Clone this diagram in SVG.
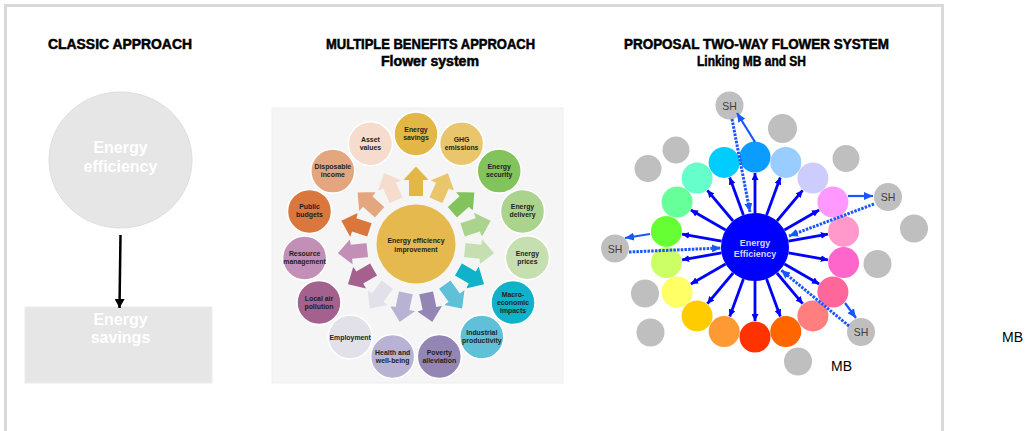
<svg xmlns="http://www.w3.org/2000/svg" width="1027" height="431" viewBox="0 0 1027 431">
<style>
.title{font-family:"Liberation Sans",Arial,sans-serif;font-weight:bold;font-size:14px;fill:#000;stroke:#000;stroke-width:0.5}
.wht{font-family:"Liberation Sans",Arial,sans-serif;font-weight:bold;font-size:16px;fill:#fff;text-anchor:middle}
.pl{font-family:"Liberation Sans",Arial,sans-serif;font-weight:bold;font-size:6.9px;fill:#1e1e1e;text-anchor:middle}
.pet{stroke:#fff;stroke-width:1.5}
.arw{stroke:#f5f5f5;stroke-width:2}
.gray{fill:#bfbfbf}
.sh{font-family:"Liberation Sans",Arial,sans-serif;font-size:10.5px;fill:#404040;text-anchor:middle}
.mb{font-family:"Liberation Sans",Arial,sans-serif;font-size:14px;fill:#000}
.ray{stroke:#0000ff;stroke-width:2.8;fill:none;marker-end:url(#hb)}
.shs{stroke:#1a56ff;stroke-width:2.2;fill:none;marker-end:url(#hs)}
.shd{stroke:#1a56ff;stroke-width:3;stroke-dasharray:2.5 1.2;fill:none;marker-end:url(#hs)}
</style>
<defs>
<marker id="hk" markerUnits="userSpaceOnUse" markerWidth="10" markerHeight="10" refX="9" refY="5" orient="auto"><path d="M0,0 L9,5 L0,10 z" fill="#000"/></marker>
<marker id="hb" markerUnits="userSpaceOnUse" markerWidth="7" markerHeight="7" refX="7" refY="3.5" orient="auto"><path d="M0,0 L7,3.5 L0,7 z" fill="#0000ff"/></marker>
<marker id="hs" markerUnits="userSpaceOnUse" markerWidth="9" markerHeight="8" refX="9" refY="4" orient="auto"><path d="M0,0 L9,4 L0,8 z" fill="#1a56ff"/></marker>
<polygon id="barrow" points="-8,-48 8,-48 8,-64 15,-64 0,-80 -15,-64 -8,-64"/>
</defs>
<rect width="1027" height="431" fill="#fff"/>
<g id="frame" fill="none" stroke="#d9d9d9" stroke-width="3">
<path d="M5.5,431 L5.5,5.5 L942.5,5.5 L942.5,431"/>
</g>

<g id="titles">
<text class="title" x="48" y="49" textLength="144" lengthAdjust="spacingAndGlyphs">CLASSIC APPROACH</text>
<text class="title" x="326" y="49" textLength="209" lengthAdjust="spacingAndGlyphs">MULTIPLE BENEFITS APPROACH</text>
<text class="title" x="381" y="66" textLength="98" lengthAdjust="spacingAndGlyphs">Flower system</text>
<text class="title" x="624" y="49" textLength="265" lengthAdjust="spacingAndGlyphs">PROPOSAL TWO-WAY FLOWER SYSTEM</text>
<text class="title" x="697" y="66" textLength="109" lengthAdjust="spacingAndGlyphs">Linking MB and SH</text>
</g>

<g id="classic-ee">
<ellipse cx="120.5" cy="160" rx="71.5" ry="68" fill="#e6e6e6" stroke="#dedede" stroke-width="1"/>
<text class="wht" x="120.5" y="153">Energy</text>
<text class="wht" x="120.5" y="172">efficiency</text>
</g>
<g id="classic-savings">
<rect x="25" y="307" width="187" height="76" fill="#e6e6e6" stroke="#ececec" stroke-width="1"/>
<text class="wht" x="120.5" y="325">Energy</text>
<text class="wht" x="120.5" y="343">savings</text>
</g>
<g id="classic-connector">
<line x1="120.5" y1="235" x2="119.5" y2="308" stroke="#000" stroke-width="2.5" marker-end="url(#hk)"/>
</g>

<g id="mb-flower">
<rect x="272" y="108" width="291" height="275" fill="#f5f5f5" stroke="#efefef" stroke-width="1"/>
<g id="mb-arrows">
<use href="#barrow" class="arw" fill="#e3b745" transform="translate(416,245) rotate(0)"/>
<use href="#barrow" class="arw" fill="#e9c56b" transform="translate(416,245) rotate(24)"/>
<use href="#barrow" class="arw" fill="#82c35c" transform="translate(416,245) rotate(48)"/>
<use href="#barrow" class="arw" fill="#aad38e" transform="translate(416,245) rotate(72)"/>
<use href="#barrow" class="arw" fill="#c6dfb0" transform="translate(416,245) rotate(96)"/>
<use href="#barrow" class="arw" fill="#10b2c9" transform="translate(416,245) rotate(120)"/>
<use href="#barrow" class="arw" fill="#5fc0d8" transform="translate(416,245) rotate(144)"/>
<use href="#barrow" class="arw" fill="#9486b4" transform="translate(416,245) rotate(168)"/>
<use href="#barrow" class="arw" fill="#b8b2d3" transform="translate(416,245) rotate(192)"/>
<use href="#barrow" class="arw" fill="#e2e1ea" transform="translate(416,245) rotate(216)"/>
<use href="#barrow" class="arw" fill="#a5618e" transform="translate(416,245) rotate(240)"/>
<use href="#barrow" class="arw" fill="#c290b6" transform="translate(416,245) rotate(264)"/>
<use href="#barrow" class="arw" fill="#d9773d" transform="translate(416,245) rotate(288)"/>
<use href="#barrow" class="arw" fill="#e4a67f" transform="translate(416,245) rotate(312)"/>
<use href="#barrow" class="arw" fill="#f6dccc" transform="translate(416,245) rotate(336)"/>
</g>
<g id="mb-center">
<circle cx="416" cy="244" r="39.5" fill="#e5b94d"/>
<text class="pl" x="416" y="243" font-size="7.4">Energy efficiency</text>
<text class="pl" x="416" y="252" font-size="7.4">improvement</text>
</g>
<g id="p-savings"><circle class="pet" cx="416" cy="134" r="22" fill="#e3b745"/><text class="pl" x="416" y="132">Energy</text><text class="pl" x="416" y="140">savings</text></g>
<g id="p-ghg"><circle class="pet" cx="461.6" cy="143.7" r="22" fill="#e9c56b"/><text class="pl" x="461.6" y="141.7">GHG</text><text class="pl" x="461.6" y="149.7">emissions</text></g>
<g id="p-security"><circle class="pet" cx="499.2" cy="171.1" r="22" fill="#82c35c"/><text class="pl" x="499.2" y="169.1">Energy</text><text class="pl" x="499.2" y="177.1">security</text></g>
<g id="p-delivery"><circle class="pet" cx="522.5" cy="211.4" r="22" fill="#aad38e"/><text class="pl" x="522.5" y="209.4">Energy</text><text class="pl" x="522.5" y="217.4">delivery</text></g>
<g id="p-prices"><circle class="pet" cx="527.4" cy="257.7" r="22" fill="#c6dfb0"/><text class="pl" x="527.4" y="255.7">Energy</text><text class="pl" x="527.4" y="263.7">prices</text></g>
<g id="p-macro"><circle class="pet" cx="513" cy="302.5" r="22" fill="#10b2c9"/><text class="pl" x="513" y="296.5">Macro-</text><text class="pl" x="513" y="305">economic</text><text class="pl" x="513" y="313.3">impacts</text></g>
<g id="p-industrial"><circle class="pet" cx="481.8" cy="337" r="22" fill="#5fc0d8"/><text class="pl" x="481.8" y="335">Industrial</text><text class="pl" x="481.8" y="343">productivity</text></g>
<g id="p-poverty"><circle class="pet" cx="439.3" cy="356.5" r="22" fill="#9486b4"/><text class="pl" x="439.3" y="354.5">Poverty</text><text class="pl" x="439.3" y="362.5">alleviation</text></g>
<g id="p-health"><circle class="pet" cx="392.7" cy="356.5" r="22" fill="#b8b2d3"/><text class="pl" x="392.7" y="354.5">Health and</text><text class="pl" x="392.7" y="362.5">well-being</text></g>
<g id="p-employment"><circle class="pet" cx="350.2" cy="337" r="22" fill="#e2e1ea"/><text class="pl" x="350.2" y="339.5">Employment</text></g>
<g id="p-air"><circle class="pet" cx="319" cy="302.5" r="22" fill="#a5618e"/><text class="pl" x="319" y="300.5">Local air</text><text class="pl" x="319" y="308.5">pollution</text></g>
<g id="p-resource"><circle class="pet" cx="304.6" cy="258" r="22" fill="#c290b6"/><text class="pl" x="304.6" y="256">Resource</text><text class="pl" x="304.6" y="264">management</text></g>
<g id="p-budgets"><circle class="pet" cx="309.5" cy="211.4" r="22" fill="#d9773d"/><text class="pl" x="309.5" y="209.4">Public</text><text class="pl" x="309.5" y="217.4">budgets</text></g>
<g id="p-income"><circle class="pet" cx="332.8" cy="171.1" r="22" fill="#e4a67f"/><text class="pl" x="332.8" y="169.1">Disposable</text><text class="pl" x="332.8" y="177.1">income</text></g>
<g id="p-asset"><circle class="pet" cx="370.4" cy="143.7" r="22" fill="#f6dccc"/><text class="pl" x="370.4" y="141.7">Asset</text><text class="pl" x="370.4" y="149.7">values</text></g>
</g>

<g id="tw-gray">
<circle class="gray" cx="782.5" cy="128.5" r="14.5"/>
<circle class="gray" cx="676" cy="150" r="13.5"/>
<circle class="gray" cx="648" cy="168.5" r="13.5"/>
<circle class="gray" cx="846" cy="158.5" r="13.5"/>
<circle class="gray" cx="914" cy="228.5" r="14"/>
<circle class="gray" cx="877.5" cy="264" r="14"/>
<circle class="gray" cx="645" cy="293.5" r="14"/>
<circle class="gray" cx="650.5" cy="332.5" r="14"/>
<circle class="gray" cx="798" cy="361.5" r="14"/>
</g>
<g id="sh-top"><circle class="gray" cx="729.5" cy="105.5" r="14"/><text class="sh" x="729.5" y="109.5">SH</text></g>
<g id="sh-right"><circle class="gray" cx="888" cy="197" r="14"/><text class="sh" x="888" y="201">SH</text></g>
<g id="sh-left"><circle class="gray" cx="615" cy="248.5" r="14"/><text class="sh" x="615" y="252.5">SH</text></g>
<g id="sh-bottom"><circle class="gray" cx="861" cy="332" r="14"/><text class="sh" x="861" y="336">SH</text></g>

<g id="tw-petals">
<circle cx="755" cy="157" r="15.5" fill="#0a9cff"/>
<circle cx="785.8" cy="162.4" r="15.5" fill="#99ccff"/>
<circle cx="812.9" cy="178.1" r="15.5" fill="#ccccff"/>
<circle cx="832.9" cy="202" r="15.5" fill="#ff99ff"/>
<circle cx="843.6" cy="231.4" r="15.5" fill="#ff99cc"/>
<circle cx="843.6" cy="262.6" r="15.5" fill="#ff66cc"/>
<circle cx="832.9" cy="292" r="15.5" fill="#ff6699"/>
<circle cx="812.9" cy="315.9" r="15.5" fill="#ff7f7f"/>
<circle cx="785.8" cy="331.6" r="15.5" fill="#ff6600"/>
<circle cx="755" cy="337" r="15.5" fill="#ff3300"/>
<circle cx="724.2" cy="331.6" r="15.5" fill="#ff9933"/>
<circle cx="697.1" cy="315.9" r="15.5" fill="#ffcc00"/>
<circle cx="677.1" cy="292" r="15.5" fill="#ffff66"/>
<circle cx="666.4" cy="262.6" r="15.5" fill="#ccff66"/>
<circle cx="666.4" cy="231.4" r="15.5" fill="#66ff33"/>
<circle cx="677.1" cy="202" r="15.5" fill="#66ff99"/>
<circle cx="697.1" cy="178.1" r="15.5" fill="#66ffcc"/>
<circle cx="724.2" cy="162.4" r="15.5" fill="#00ccff"/>
</g>
<g id="tw-center">
<circle cx="755" cy="247" r="34" fill="#0000ff"/>
<text x="755" y="246" font-family="Liberation Sans, Arial, sans-serif" font-weight="bold" font-size="9" fill="#d8d8ff" text-anchor="middle">Energy</text>
<text x="755" y="257" font-family="Liberation Sans, Arial, sans-serif" font-weight="bold" font-size="9" fill="#d8d8ff" text-anchor="middle">Efficiency</text>
</g>
<g id="connectors">
<line class="ray" x1="755" y1="213" x2="755" y2="173"/>
<line class="ray" x1="766.6" y1="215.1" x2="780.3" y2="177.5"/>
<line class="ray" x1="776.9" y1="221" x2="802.6" y2="190.3"/>
<line class="ray" x1="784.4" y1="230" x2="819.1" y2="210"/>
<line class="ray" x1="788.5" y1="241.1" x2="827.9" y2="234.2"/>
<line class="ray" x1="788.5" y1="252.9" x2="827.9" y2="259.8"/>
<line class="ray" x1="784.4" y1="264" x2="819.1" y2="284"/>
<line class="ray" x1="776.9" y1="273" x2="802.6" y2="303.7"/>
<line class="ray" x1="766.6" y1="279" x2="780.3" y2="316.5"/>
<line class="ray" x1="755" y1="281" x2="755" y2="321"/>
<line class="ray" x1="743.4" y1="279" x2="729.7" y2="316.5"/>
<line class="ray" x1="733.1" y1="273" x2="707.4" y2="303.7"/>
<line class="ray" x1="725.6" y1="264" x2="690.9" y2="284"/>
<line class="ray" x1="721.5" y1="252.9" x2="682.1" y2="259.8"/>
<line class="ray" x1="721.5" y1="241.1" x2="682.1" y2="234.2"/>
<line class="ray" x1="725.6" y1="230" x2="690.9" y2="210"/>
<line class="ray" x1="733.1" y1="221" x2="707.4" y2="190.3"/>
<line class="ray" x1="743.4" y1="215.1" x2="729.7" y2="177.5"/>
<line class="shs" x1="755" y1="142" x2="737" y2="113"/>
<line class="shd" x1="732" y1="119" x2="750" y2="212"/>
<line class="shs" x1="848" y1="196" x2="873" y2="196"/>
<line class="shd" x1="874" y1="204" x2="789" y2="236"/>
<line class="shs" x1="650" y1="234" x2="625" y2="238"/>
<line class="shd" x1="629" y1="252" x2="721" y2="248"/>
<line class="shs" x1="845" y1="303" x2="856" y2="318"/>
<line class="shd" x1="849" y1="326" x2="781" y2="270"/>
</g>
<g id="labels">
<text class="mb" x="831" y="371">MB</text>
<text class="mb" x="1002" y="342">MB</text>
</g>
</svg>
